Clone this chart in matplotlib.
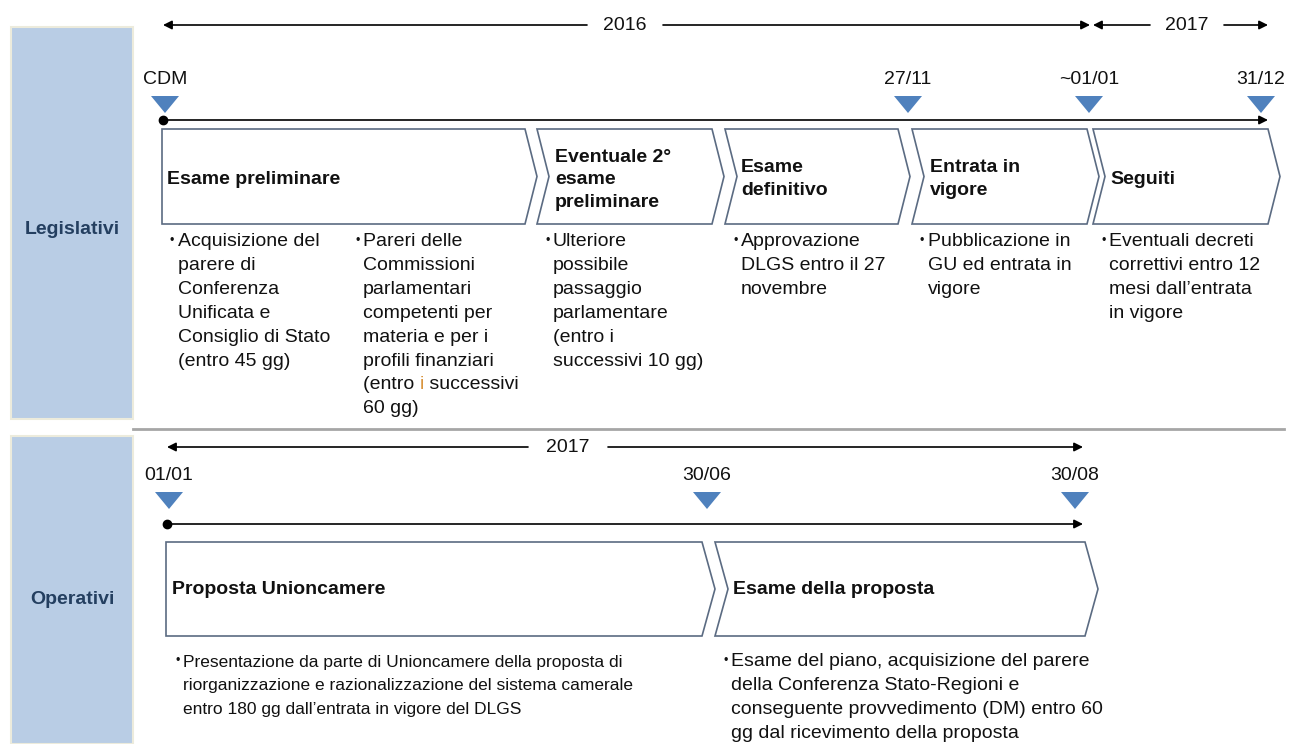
"""
Timeline legislativi / operativi
"""
import matplotlib.pyplot as plt
from matplotlib.patches import Polygon, Rectangle

plt.rcParams['font.family'] = ['Liberation Sans', 'DejaVu Sans']

# data
sections = ['Legislativi', 'Operativi']

leg_years = ['2016', '2017']
leg_milestones = ['CDM', '27/11', '~01/01', '31/12']
leg_phases = ['Esame preliminare', 'Eventuale 2°\nesame\npreliminare', 'Esame\ndefinitivo',
              'Entrata in\nvigore', 'Seguiti']
leg_notes = [
    ['Acquisizione del', 'parere di', 'Conferenza', 'Unificata e', 'Consiglio di Stato', '(entro 45 gg)'],
    ['Pareri delle', 'Commissioni', 'parlamentari', 'competenti per', 'materia e per i',
     'profili finanziari', '(entro i successivi', '60 gg)'],
    ['Ulteriore', 'possibile', 'passaggio', 'parlamentare', '(entro i', 'successivi 10 gg)'],
    ['Approvazione', 'DLGS entro il 27', 'novembre'],
    ['Pubblicazione in', 'GU ed entrata in', 'vigore'],
    ['Eventuali decreti', 'correttivi entro 12', 'mesi dall’entrata', 'in vigore'],
]

op_years = ['2017']
op_milestones = ['01/01', '30/06', '30/08']
op_phases = ['Proposta Unioncamere', 'Esame della proposta']
op_notes = [
    ['Presentazione da parte di Unioncamere della proposta di',
     'riorganizzazione e razionalizzazione del sistema camerale',
     'entro 180 gg dall’entrata in vigore del DLGS'],
    ['Esame del piano, acquisizione del parere', 'della Conferenza Stato-Regioni e',
     'conseguente provvedimento (DM) entro 60', 'gg dal ricevimento della proposta'],
]

# layout (pixels)
W, H = 1289, 744
BLUE = '#4f81bd'
BAND = '#b9cde5'
EDGE = '#5b6b82'
NAVY = '#243f60'
TXT = '#111111'
ORANGE = '#d9953f'

band_y = [(27, 419), (436, 744)]
label_y = [229, 600]

fig = plt.figure(figsize=(W / 100, H / 100), dpi=100)
ax = fig.add_axes([0, 0, 1, 1])
ax.set_xlim(0, W)
ax.set_ylim(H, 0)
ax.axis('off')


def arrow(x_from, x_to, y):
    ax.annotate('', xy=(x_to, y), xytext=(x_from, y),
                arrowprops=dict(arrowstyle='-|>', color='black', lw=1.2,
                                mutation_scale=13, shrinkA=0, shrinkB=0))


def year_span(label, x0, x1, xt, y, gap=38):
    arrow(xt - gap, x0, y)
    arrow(xt + gap, x1, y)
    ax.text(xt, y, label, ha='center', va='center', fontsize=14, color=TXT)


def milestone(label, x, y_tri, y_lab):
    ax.add_patch(Polygon([(x - 14, y_tri), (x + 14, y_tri), (x, y_tri + 17)],
                         closed=True, facecolor=BLUE, edgecolor='none'))
    ax.text(x, y_lab, label, ha='center', va='center', fontsize=14, color=TXT)


def chevron(left, right, top, bottom, depth, flat=False):
    mid = (top + bottom) / 2
    pts = [(left, top), (right, top), (right + depth, mid), (right, bottom), (left, bottom)]
    if not flat:
        pts.append((left + depth, mid))
    ax.add_patch(Polygon(pts, closed=True, facecolor='white', edgecolor=EDGE, lw=1.2))


def note_line(x, y, line, fs):
    # the "i" in "(entro i successivi" is orange in the source slide
    if line == '(entro i successivi':
        t = ax.text(x, y, '(entro ', ha='left', va='center', fontsize=fs, color=TXT)
        t2 = ax.annotate('i', xy=(1, 0.5), xycoords=t, ha='left', va='center',
                         fontsize=fs, color=ORANGE)
        ax.annotate(' successivi', xy=(1, 0.5), xycoords=t2, ha='left', va='center',
                    fontsize=fs, color=TXT)
    else:
        ax.text(x, y, line, ha='left', va='center', fontsize=fs, color=TXT)


def notes(lines, xb, y0, fs=14, step=23.8):
    ax.text(xb, y0 - 1, '•', ha='left', va='center', fontsize=9, color=TXT)
    for i, line in enumerate(lines):
        note_line(xb + 8, y0 + i * step, line, fs)


# side bands
for name, (y0, y1), ly in zip(sections, band_y, label_y):
    ax.add_patch(Rectangle((11, y0), 122, y1 - y0, facecolor=BAND, edgecolor='#ecebdc', lw=1.5))
    ax.text(72, ly, name, ha='center', va='center', fontsize=14, fontweight='bold', color=NAVY)

ax.plot([133, 1284], [429, 429], color='#a6a6a6', lw=2)

# --- legislativi
year_span(leg_years[0], 163, 1090, 625, 25)
year_span(leg_years[1], 1093, 1268, 1187, 25, gap=37)

for lab, x in zip(leg_milestones, [165, 908, 1089, 1261]):
    milestone(lab, x, 96, 80)

ax.plot([163], [120], 'o', color='black', ms=6)
arrow(163, 1268, 120)

leg_boxes = [(162, 525), (537, 712), (725, 898), (912, 1087), (1093, 1268)]
leg_title_x = [167, 555, 741, 930, 1110]
leg_title_y = [179, 180, 179, 179, 180]
for i, ((l, r), name) in enumerate(zip(leg_boxes, leg_phases)):
    chevron(l, r, 129, 224, 12, flat=(i == 0))
    ax.text(leg_title_x[i], leg_title_y[i], name, ha='left', va='center', fontsize=14,
            fontweight='bold', color=TXT, linespacing=1.43)

leg_note_x = [170, 355, 545, 733, 920, 1101]
for lines, xb in zip(leg_notes, leg_note_x):
    notes(lines, xb, 242)

# --- operativi
year_span(op_years[0], 167, 1083, 568, 447, gap=40)

for lab, x in zip(op_milestones, [169, 707, 1075]):
    milestone(lab, x, 492, 475)

ax.plot([167], [524], 'o', color='black', ms=6)
arrow(167, 1083, 524)

op_boxes = [(166, 702), (715, 1085)]
op_title_x = [172, 733]
for i, ((l, r), name) in enumerate(zip(op_boxes, op_phases)):
    chevron(l, r, 542, 636, 13, flat=(i == 0))
    ax.text(op_title_x[i], 590, name, ha='left', va='center', fontsize=14,
            fontweight='bold', color=TXT)

notes(op_notes[0], 175, 662, fs=12.5)
notes(op_notes[1], 723, 662)

fig.savefig('out.png', dpi=100)
